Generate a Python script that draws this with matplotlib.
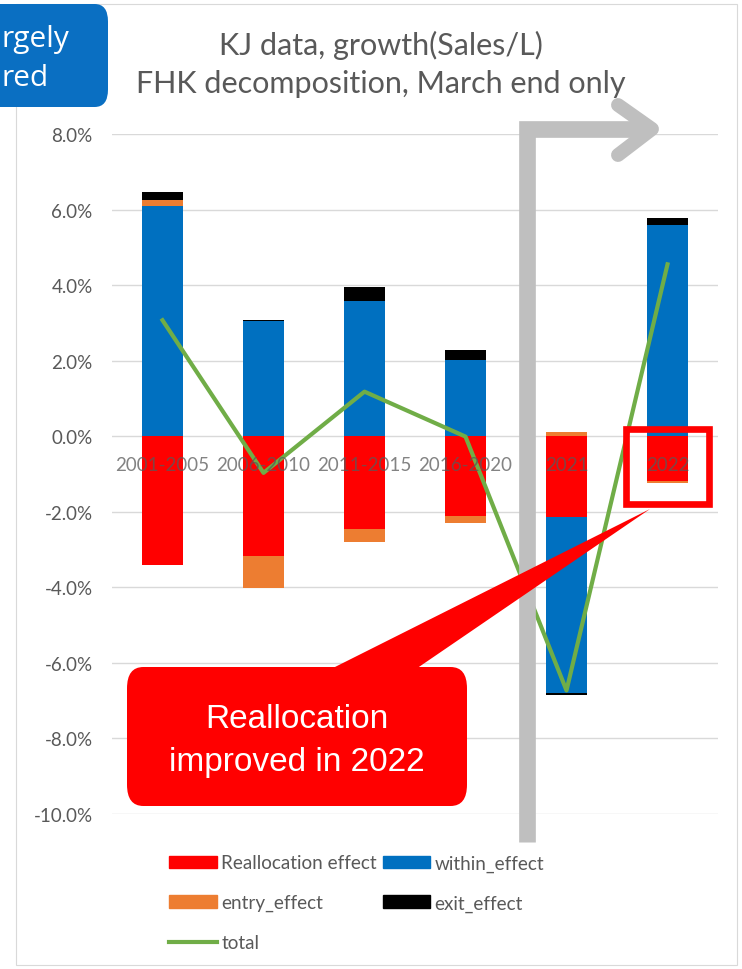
import matplotlib
matplotlib.use('Agg')
import matplotlib.pyplot as plt
import numpy as np
from matplotlib.lines import Line2D
from matplotlib.patches import FancyBboxPatch, Polygon, Rectangle, Patch
from matplotlib.ticker import FuncFormatter

W, H = 742, 970

periods = ['2001-2005', '2006-2010', '2011-2015', '2016-2020', '2021', '2022']
realloc_effect = [-3.40, -3.16, -2.46, -2.11, -2.15, -1.18]
within_effect = [6.10, 3.04, 3.59, 2.02, -4.65, 5.58]
entry_effect = [0.15, -0.86, -0.33, -0.18, 0.11, -0.05]
exit_effect = [0.22, 0.03, 0.37, 0.26, -0.05, 0.20]
total = [3.07, -0.97, 1.18, -0.01, -6.73, 4.55]

series = [
    ('Reallocation effect', realloc_effect, '#FF0000'),
    ('within_effect', within_effect, '#0070C0'),
    ('entry_effect', entry_effect, '#ED7D31'),
    ('exit_effect', exit_effect, '#000000'),
]

TXT = '#595959'
FONT = ['Lato', 'DejaVu Sans']
plt.rcParams['font.family'] = FONT


def px(x, y):
    # pixel position (from top-left) -> figure fraction
    return x / W, 1 - y / H


fig = plt.figure(figsize=(W / 100, H / 100), dpi=100)
fig.patch.set_facecolor('white')

# outer chart frame
l, t = px(16, 5)
r, b = px(737, 966)
fig.add_artist(Rectangle((l, b), r - l, t - b, transform=fig.transFigure,
                         fill=False, ec='#D9D9D9', lw=0.8, zorder=0))

ax = fig.add_axes([112 / W, 1 - 815 / H, 606 / W, 680 / H])
x = np.arange(len(periods))

# Excel-style stacking: positives up from zero, negatives down from zero
pos = np.zeros(len(periods))
neg = np.zeros(len(periods))
for name, vals, col in series:
    v = np.array(vals)
    base = np.where(v >= 0, pos, neg)
    ax.bar(x, v, 0.40, bottom=base, color=col, zorder=2)
    pos = pos + np.where(v >= 0, v, 0)
    neg = neg + np.where(v < 0, v, 0)

ax.plot(x, total, color='#70AD47', lw=3.0, zorder=3)

ax.set_xlim(-0.5, len(periods) - 0.5)
ax.set_ylim(-10, 8)
ax.set_yticks(np.arange(-10, 8.1, 2))
ax.yaxis.set_major_formatter(FuncFormatter(lambda v, p: f'{v:.1f}%'))
ax.tick_params(axis='y', length=0, pad=14, labelsize=13.5, labelcolor=TXT)
ax.set_xticks([])
ax.grid(axis='y', color='#D9D9D9', lw=1.0, zorder=0)
ax.set_axisbelow(True)
for s in ax.spines.values():
    s.set_visible(False)

# category labels sit just under the zero line
for xi, lab in zip(x, periods):
    ax.text(xi, -0.74, lab, ha='center', va='center', fontsize=13.5,
            color=TXT, alpha=0.75, zorder=4)

fig.text(*px(381, 45), 'KJ data, growth(Sales/L)', ha='center', va='center',
         fontsize=22, color=TXT)
fig.text(*px(381, 84), 'FHK decomposition, March end only', ha='center',
         va='center', fontsize=22, color=TXT)

# legend, row-major order
handles = {name: Patch(color=col) for name, _, col in series}
handles['total'] = Line2D([], [], color='#70AD47', lw=3.0)
order = ['Reallocation effect', 'entry_effect', 'total', 'within_effect', 'exit_effect']
fig.legend([handles[k] for k in order], order, ncol=2, loc='upper left',
           bbox_to_anchor=px(160, 846), frameon=False, fontsize=13.6,
           handlelength=2.5, handleheight=0.65, handletextpad=0.25,
           columnspacing=0.3, labelspacing=1.2, borderpad=0,
           labelcolor=TXT)

# blue note box at the top-left corner (cut off by the edge)
l, t = px(-40, 5)
r, b = px(108, 108)
fig.add_artist(FancyBboxPatch((l, b), r - l, t - b, transform=fig.transFigure,
                              boxstyle='round,pad=0,rounding_size=0.018',
                              fc='#0A6FC2', ec='none', zorder=5))
fig.text(*px(2, 40), 'rgely', ha='left', va='center', fontsize=21.5,
         color='white', family=['Open Sans', 'DejaVu Sans'], zorder=6)
fig.text(*px(2, 78), 'red', ha='left', va='center', fontsize=21.5,
         color='white', family=['Open Sans', 'DejaVu Sans'], zorder=6)

# gray bracket arrow
gray = '#BFBFBF'
xs, ys = zip(px(527, 843), px(527, 130), px(650, 130))
fig.add_artist(Line2D(xs, ys, transform=fig.transFigure, color=gray, lw=12,
                      solid_joinstyle='miter', solid_capstyle='butt', zorder=5))
xs, ys = zip(px(618, 106), px(652, 130), px(618, 156))
fig.add_artist(Line2D(xs, ys, transform=fig.transFigure, color=gray, lw=10,
                      solid_joinstyle='round', solid_capstyle='round', zorder=5))

# red highlight square around 2022
l, t = px(626, 430)
r, b = px(709, 505)
fig.add_artist(Rectangle((l, b), r - l, t - b, transform=fig.transFigure,
                         fill=False, ec='#FF0000', lw=4.8, zorder=6))

# callout
l, t = px(127, 668)
r, b = px(467, 807)
fig.add_artist(FancyBboxPatch((l, b), r - l, t - b, transform=fig.transFigure,
                              boxstyle='round,pad=0,rounding_size=0.022',
                              fc='#FF0000', ec='none', zorder=6))
fig.add_artist(Polygon([px(327, 672), px(650, 510), px(413, 672)],
                       closed=True, transform=fig.transFigure,
                       fc='#FF0000', ec='none', zorder=6))
fig.text(*px(297, 720), 'Reallocation', ha='center', va='center', fontsize=24,
         color='white', family=['Liberation Sans', 'DejaVu Sans'], zorder=7)
fig.text(*px(297, 763), 'improved in 2022', ha='center', va='center', fontsize=24,
         color='white', family=['Liberation Sans', 'DejaVu Sans'], zorder=7)

fig.savefig('out.png', dpi=100)
